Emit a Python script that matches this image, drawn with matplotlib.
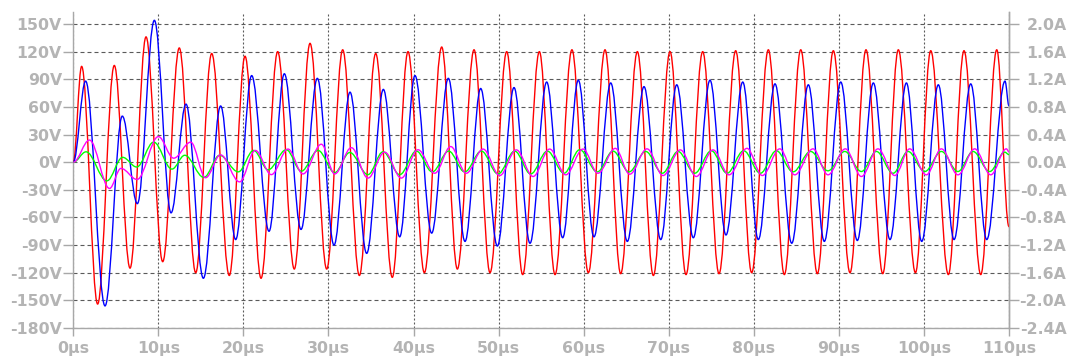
import matplotlib
matplotlib.use("Agg")
import matplotlib.pyplot as plt
from matplotlib.path import Path
from matplotlib.patches import PathPatch

# ---- data (extrema of each trace) ----
red_t = [0, 0.98, 2.86, 4.82, 6.67, 8.55, 10.51, 12.46, 14.39, 16.27, 18.34,
         20.19, 22.07, 24.03, 25.98, 27.83, 29.79, 31.67, 33.63, 35.55, 37.5,
         39.35, 41.27, 43.31, 45.15, 47.11, 48.99, 50.95, 52.83, 54.79, 56.63,
         58.62, 60.55, 62.51, 64.35, 66.31, 68.19, 70.15, 72.03, 73.99, 75.91,
         77.87, 79.75, 81.71, 83.59, 85.52, 87.47, 89.35, 91.31, 93.19, 95.16,
         96.99, 99.0, 100.8, 102.87, 104.71, 106.68, 108.56, 110]
red_v = [0, 104, -154, 105, -115, 136, -108, 124, -120, 118, -123,
         115, -126, 120, -116, 129, -116, 122, -123, 118, -125,
         120, -120, 125, -116, 122, -120, 120, -122, 120, -122,
         122, -120, 122, -121, 120, -123, 120, -122, 120, -121,
         121, -120, 122, -122, 122, -121, 121, -120, 122, -121,
         122, -120, 121, -122, 121, -122, 122, -70]

blue_t = [0, 1.45, 3.73, 5.76, 7.53, 9.53, 11.49, 13.25, 15.29, 17.32, 19.09,
          20.97, 23.01, 24.81, 26.77, 28.69, 30.65, 32.53, 34.49, 36.45, 38.37,
          40.17, 42.13, 44.09, 46.05, 47.89, 49.85, 51.81, 53.69, 55.65, 57.53,
          59.37, 61.21, 63.18, 65.13, 67.09, 69.06, 70.94, 72.89, 74.85, 76.73,
          78.70, 80.53, 82.49, 84.46, 86.41, 88.29, 90.22, 92.17, 94.05, 96.01,
          97.94, 99.74, 101.69, 103.54, 105.5, 107.38, 109.53, 110]
blue_v = [0, 88, -156, 50, -45, 154, -55, 63, -126, 61, -84,
          94, -75, 96, -73, 91, -90, 76, -99, 79, -81,
          94, -77, 91, -86, 80, -91, 81, -88, 87, -82,
          89, -81, 86, -86, 82, -84, 84, -82, 89, -79,
          87, -84, 85, -88, 84, -86, 87, -85, 86, -84,
          86, -86, 84, -84, 85, -84, 88, 61]

green_t = [0, 1.5, 3.95, 5.8, 7.45, 9.45, 11.6, 13.1, 15.35, 17.2, 19.4,
           21.2, 22.9, 25.04, 26.8, 28.77, 30.73, 32.5, 34.64, 36.41, 38.37,
           40.33, 42.2, 44.13, 46.01, 47.97, 49.93, 51.89, 53.77, 55.73, 57.69,
           59.53, 61.6, 63.45, 65.33, 67.29, 69.25, 71.09, 73.05, 75.01, 76.85,
           78.81, 80.77, 82.65, 84.61, 86.67, 88.72, 90.69, 92.65, 94.41, 96.37,
           98.13, 100.09, 102.05, 104.0, 105.77, 107.73, 109.5, 110]
green_a = [0, 0.15, -0.27, 0.07, -0.07, 0.29, -0.10, 0.10, -0.22, 0.10, -0.14,
           0.17, -0.11, 0.18, -0.13, 0.17, -0.15, 0.14, -0.18, 0.15, -0.18,
           0.16, -0.14, 0.16, -0.14, 0.16, -0.17, 0.16, -0.17, 0.16, -0.16,
           0.18, -0.14, 0.16, -0.14, 0.155, -0.16, 0.155, -0.16, 0.165, -0.16,
           0.165, -0.16, 0.165, -0.14, 0.155, -0.125, 0.155, -0.135, 0.155, -0.16,
           0.155, -0.135, 0.155, -0.135, 0.155, -0.135, 0.145, 0.11]

magenta_t = [0, 1.9, 4.26, 5.6, 7.5, 10.0, 11.8, 13.8, 15.55, 17.3, 19.55,
             21.4, 23.28, 25.24, 27.0, 29.16, 30.73, 32.69, 34.64, 36.6, 38.56,
             40.52, 42.49, 44.37, 46.2, 48.17, 50.13, 52.08, 54.05, 56.0, 57.89,
             59.92, 61.68, 63.72, 65.41, 67.45, 69.33, 71.36, 73.24, 75.2, 77.09,
             79.2, 81.0, 83.05, 84.81, 86.96, 88.72, 90.76, 92.65, 94.6, 96.57,
             98.33, 100.28, 102.05, 104.0, 105.97, 107.85, 109.69, 110]
magenta_a = [0, 0.32, -0.38, -0.09, -0.25, 0.37, 0.058, 0.29, -0.225, 0.106, -0.285,
             0.17, -0.18, 0.19, -0.17, 0.26, -0.17, 0.21, -0.23, 0.145, -0.23,
             0.18, -0.16, 0.226, -0.16, 0.19, -0.193, 0.178, -0.207, 0.19, -0.183,
             0.19, -0.16, 0.2, -0.174, 0.193, -0.193, 0.178, -0.207, 0.178, -0.183,
             0.2, -0.193, 0.193, -0.183, 0.193, -0.183, 0.193, -0.207, 0.193, -0.193,
             0.193, -0.183, 0.193, -0.183, 0.193, -0.183, 0.193, 0.15]

x_ticks = list(range(0, 111, 10))
x_labels = [f"{v}µs" for v in x_ticks]
yv_ticks = list(range(-180, 151, 30))
yv_labels = [f"{v}V" for v in yv_ticks]
ya_ticks = [round(-2.4 + 0.4 * i, 1) for i in range(12)]
ya_labels = [f"{abs(v):.1f}A" if abs(v) < 1e-9 else f"{v:.1f}A" for v in ya_ticks]


def smooth_trace(axis, ts, vs, color, lw=1.0):
    """Draw the trace through its extrema as smooth curve segments
    (horizontal tangent at each extremum), in data coordinates."""
    k = 0.3634
    verts = [(ts[0], vs[0])]
    codes = [Path.MOVETO]
    for i in range(len(ts) - 1):
        dt = ts[i + 1] - ts[i]
        verts += [(ts[i] + k * dt, vs[i]), (ts[i + 1] - k * dt, vs[i + 1]),
                  (ts[i + 1], vs[i + 1])]
        codes += [Path.CURVE4] * 3
    patch = PathPatch(Path(verts, codes), fill=False, edgecolor=color, lw=lw,
                      transform=axis.transData, zorder=3)
    axis.add_patch(patch)


# ---- figure ----
W, H = 1077, 360
fig = plt.figure(figsize=(W / 100, H / 100), dpi=100)
left, right, top, bottom = 73.3, 1009, 11.5, 328
ax = fig.add_axes([left / W, (H - bottom) / H, (right - left) / W, (bottom - top) / H])

v_top = 150 + (24 - top) / (304 / 330)
ax.set_xlim(0, 110)
ax.set_ylim(-180, v_top)

lab_col = "#b4b4b4"
ax_col = "#a8a8a8"
grid_col = "#5a5a5a"
font = dict(family="DejaVu Sans", weight="bold", size=11.3)

smooth_trace(ax, red_t, red_v, "#ff0000")
smooth_trace(ax, blue_t, blue_v, "#0000ff")

ax.set_xticks(x_ticks)
ax.set_xticklabels(x_labels, color=lab_col, **font)
ax.set_yticks(yv_ticks)
ax.set_yticklabels(yv_labels, color=lab_col, **font)
ax.tick_params(axis="y", direction="out", length=7.4, width=1, color=ax_col, pad=0.8)
ax.tick_params(axis="x", direction="out", length=6.0, width=1, color=ax_col, pad=3.5)

ax.yaxis.grid(True, color=grid_col, lw=0.8, linestyle=(0, (3.6, 2.7)))
ax.xaxis.grid(True, color=grid_col, lw=0.8, linestyle=(0, (1.8, 1.8)))
ax.set_axisbelow(True)

for s in ["left", "right", "bottom"]:
    ax.spines[s].set_color(ax_col)
    ax.spines[s].set_linewidth(1.0)
ax.spines["top"].set_visible(False)

ax2 = ax.twinx()
ax2.set_ylim(-2.4, v_top / 75.0)
smooth_trace(ax2, green_t, green_a, "#00ff00")
smooth_trace(ax2, magenta_t, magenta_a, "#ff00ff")
ax2.set_xlim(0, 110)
ax2.set_ylim(-2.4, v_top / 75.0)
ax2.set_yticks(ya_ticks)
ax2.set_yticklabels(ya_labels, color=lab_col, **font)
for lab in ax2.get_yticklabels():
    lab.set_horizontalalignment("right")
ax2.tick_params(axis="y", direction="out", length=7.4, width=1, color=ax_col, pad=34)
for s in ["top", "left", "bottom"]:
    ax2.spines[s].set_visible(False)
ax2.spines["right"].set_color(ax_col)
ax2.spines["right"].set_linewidth(1.0)

fig.savefig("out.png", dpi=100, facecolor="white")
